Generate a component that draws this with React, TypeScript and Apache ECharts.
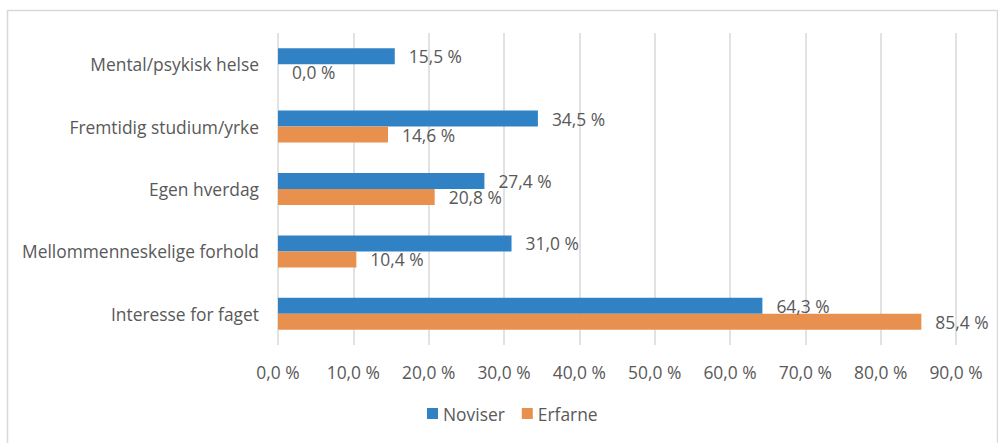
import React, { useEffect, useRef } from "react";
import * as echarts from "echarts";

const categories = [
  "Interesse for faget",
  "Mellommenneskelige forhold",
  "Egen hverdag",
  "Fremtidig studium/yrke",
  "Mental/psykisk helse",
];
const noviser = [64.3, 31.0, 27.4, 34.5, 15.5];
const erfarne = [85.4, 10.4, 20.8, 14.6, 0.0];
const seriesNames = ["Noviser", "Erfarne"];

const FONT = "Open Sans";
const FS = 17.4;
const TEXT = "#595959";
const fmt = (v: number) => v.toFixed(1).replace(".", ",") + " %";

export default function App() {
  const ref = useRef<HTMLDivElement>(null);
  useEffect(() => {
    if (!ref.current) return;
    const chart = echarts.init(ref.current, undefined, { renderer: "svg" });
    chart.setOption({
      animation: false,
      backgroundColor: "#ffffff",
      textStyle: { fontFamily: FONT },
      graphic: [
        {
          type: "rect",
          shape: { x: 7.5, y: 10.5, width: 990, height: 450 },
          style: { fill: "none", stroke: "#d9d9d9", lineWidth: 1.5 },
          silent: true,
        },
      ],
      legend: {
        data: seriesNames,
        bottom: 16,
        left: 422,
        itemWidth: 11,
        itemHeight: 11,
        itemGap: 17,
        icon: "rect",
        textStyle: { fontFamily: FONT, fontSize: FS, color: TEXT },
      },
      grid: { left: 278, right: 42, top: 33, bottom: 98, containLabel: false },
      xAxis: {
        type: "value",
        min: 0,
        max: 90,
        interval: 10,
        axisLine: { show: false },
        axisTick: { show: false },
        splitLine: { lineStyle: { color: "#d9d9d9", width: 1.5 } },
        axisLabel: {
          formatter: (v: number) => fmt(v),
          fontFamily: FONT,
          fontSize: FS,
          color: TEXT,
          margin: 18,
        },
      },
      yAxis: {
        type: "category",
        data: categories,
        axisLine: { show: false },
        axisTick: { show: false },
        axisLabel: { fontFamily: FONT, fontSize: FS, color: TEXT, margin: 19 },
      },
      series: [
        {
          name: seriesNames[0],
          type: "bar",
          data: noviser,
          barWidth: 16,
          barGap: "0%",
          itemStyle: { color: "#3182C5" },
          label: {
            show: true,
            position: "right",
            distance: 14,
            formatter: (p: any) => fmt(p.value),
            fontFamily: FONT,
            fontSize: FS,
            color: TEXT,
          },
        },
        {
          name: seriesNames[1],
          type: "bar",
          data: erfarne,
          barWidth: 16,
          barGap: "0%",
          itemStyle: { color: "#E8914F" },
          label: {
            show: true,
            position: "right",
            distance: 14,
            formatter: (p: any) => fmt(p.value),
            fontFamily: FONT,
            fontSize: FS,
            color: TEXT,
          },
        },
      ],
    });
    return () => chart.dispose();
  }, []);
  return (
    <div
      ref={ref}
      style={{ position: "fixed", left: 0, top: 0, width: 998, height: 443 }}
    />
  );
}
